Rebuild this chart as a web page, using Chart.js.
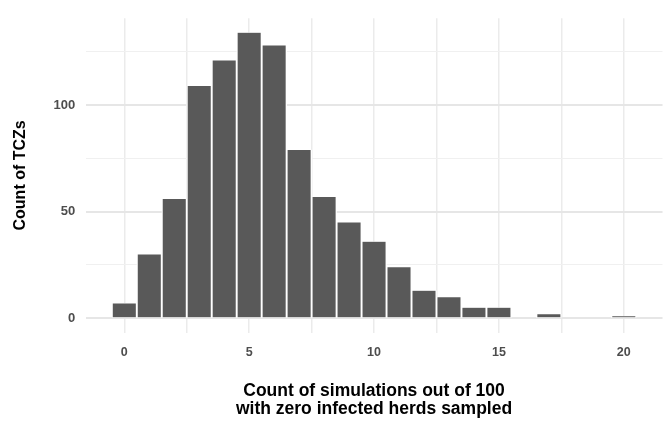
<!DOCTYPE html>
<html>
<head>
<meta charset="utf-8">
<script src="https://cdn.jsdelivr.net/npm/chart.js@4.4.0/dist/chart.umd.min.js"></script>
<style>
  html, body { margin: 0; padding: 0; background: #ffffff; }
  canvas { display: block; }
</style>
</head>
<body>
<canvas id="c" width="669" height="431"></canvas>
<script>
// ---- data ----
const categories = [0,1,2,3,4,5,6,7,8,9,10,11,12,13,14,15,16,17,18,19,20];
const counts     = [7,30,56,109,121,134,128,79,57,45,36,24,13,10,5,5,0,2,0,0,1];
const xTicks = [0, 2.5, 5, 7.5, 10, 12.5, 15, 17.5, 20];
const xLabels = [0, 5, 10, 15, 20];
const yTicks = [0, 25, 50, 75, 100, 125];
const yLabels = [0, 50, 100];
const xTitle = ["Count of simulations out of 100", "with zero infected herds sampled"];
const yTitle = "Count of TCZs";

const FONT = "'Liberation Sans', Arial, Helvetica, sans-serif";

const points = categories.map((c, i) => ({ x: c, y: counts[i] }));

new Chart(document.getElementById('c'), {
  type: 'bar',
  data: {
    datasets: [{
      data: points,
      backgroundColor: '#595959',
      borderColor: '#ffffff',
      borderWidth: { top: 0.5, right: 1.3, bottom: 0.3, left: 1.3 },
      borderSkipped: false,
      barPercentage: 1.0,
      categoryPercentage: 1.0
    }]
  },
  options: {
    responsive: false,
    devicePixelRatio: 1,
    animation: false,
    layout: { padding: { top: 7.6, right: 6.5, left: 0, bottom: 0 } },
    plugins: { legend: { display: false }, tooltip: { enabled: false } },
    scales: {
      x: {
        type: 'linear',
        offset: false,
        min: -1.55,
        max: 21.55,
        afterBuildTicks: (s) => { s.ticks = xTicks.map(v => ({ value: v })); },
        afterFit: (s) => { s.height = 98.4; },
        ticks: {
          autoSkip: false,
          maxRotation: 0,
          padding: 12.5,
          color: '#4d4d4d',
          font: { family: FONT, size: 12.5, weight: 'bold' },
          callback: (v) => xLabels.includes(v) ? String(v) : ''
        },
        grid: {
          offset: false,
          color: '#ebebeb',
          lineWidth: 1.5,
          drawTicks: false
        },
        border: { display: false },
        title: {
          display: true,
          text: xTitle,
          color: '#000000',
          font: { family: FONT, size: 17.5, weight: 'bold', lineHeight: 1.02 },
          padding: { top: 0, bottom: 13 }
        }
      },
      y: {
        type: 'linear',
        min: -6.7,
        max: 140.7,
        afterBuildTicks: (s) => { s.ticks = yTicks.map(v => ({ value: v })); },
        afterFit: (s) => { s.width = 85.6; },
        ticks: {
          autoSkip: false,
          padding: 10.4,
          color: '#4d4d4d',
          font: { family: FONT, size: 13, weight: 'bold' },
          callback: (v) => yLabels.includes(v) ? String(v) : ''
        },
        grid: {
          color: (ctx) => (ctx.tick && yLabels.includes(ctx.tick.value)) ? '#e6e6e6' : '#f0f0f0',
          lineWidth: (ctx) => (ctx.tick && yLabels.includes(ctx.tick.value)) ? 2 : 1,
          drawTicks: false
        },
        border: { display: false },
        title: {
          display: true,
          text: yTitle,
          color: '#000000',
          font: { family: FONT, size: 16, weight: 'bold', lineHeight: 1.2 },
          padding: { top: 10.5, bottom: 0 }
        }
      }
    }
  }
});
</script>
</body>
</html>
